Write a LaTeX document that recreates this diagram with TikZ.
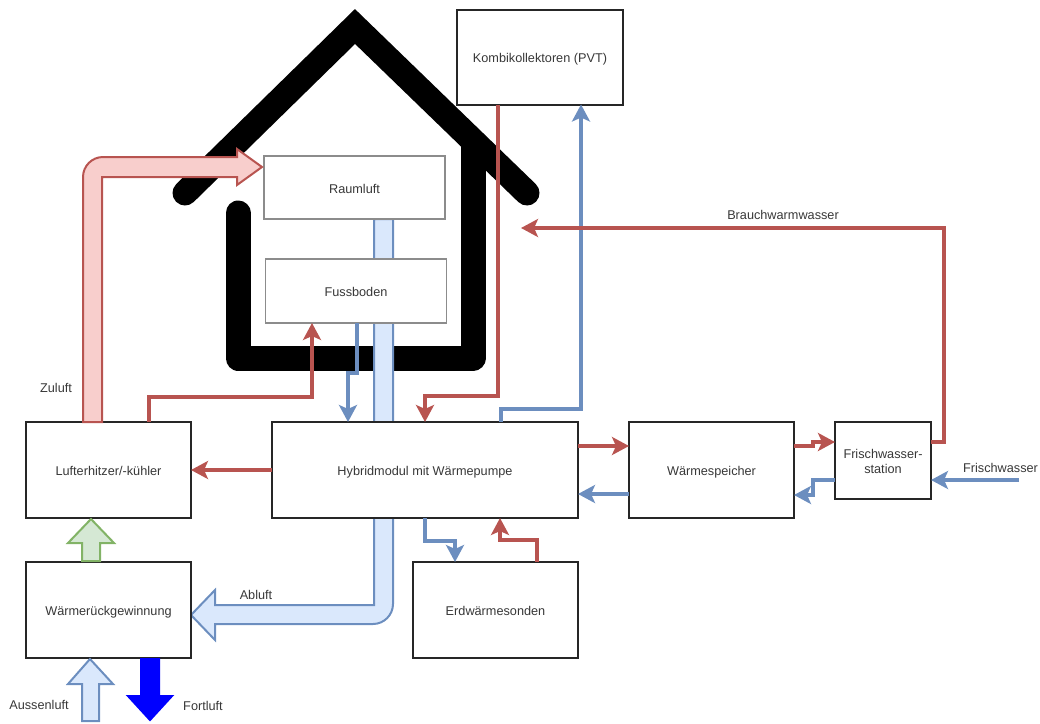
\documentclass[tikz,border=0pt]{standalone}
\usepackage{fontspec}
\setmainfont{Liberation Sans}
\usetikzlibrary{arrows.meta,backgrounds}

\begin{document}
\begin{tikzpicture}[x=1pt,y=-1pt,font=\fontsize{12.7}{15}\selectfont,text=black!78]

\tikzset{zeile/.style={text height=11pt,text depth=0pt}} %le texte est un peu plus bas
\tikzset{boite/.style={draw=black!85,line width=2pt,fill=white,outer sep=0pt,align=center,zeile}} %les boites
\tikzset{piece/.style={draw=black!45,line width=1.3pt,fill=white,outer sep=0pt,zeile}}
\tikzset{warm/.style={line width=4pt,draw=warmrot,-{Stealth[length=17pt,width=18pt,inset=4pt]}}}
\tikzset{kalt/.style={line width=4pt,draw=kaltblau,-{Stealth[length=17pt,width=18pt,inset=4pt]}}}
\tikzset{luft/.style={line width=2pt,draw=kaltblau,fill=kaltfond}}
\definecolor{warmrot}{HTML}{B85450}
\definecolor{warmfond}{HTML}{F8CECC}
\definecolor{kaltblau}{HTML}{6C8EBF}
\definecolor{kaltfond}{HTML}{DAE8FC}
\definecolor{grunrand}{HTML}{82B366}
\definecolor{grunfond}{HTML}{D5E8D4}

\useasboundingbox (0,0) rectangle (1040,723);

%--------------------boites---------------------
\node[boite,minimum width=165pt,minimum height=96pt] (lufter) at (108.5,470) {Lufterhitzer/-kühler};
\node[boite,minimum width=165pt,minimum height=96pt] (wrg) at (108.5,610) {Wärmerückgewinnung};
\node[boite,minimum width=306pt,minimum height=96pt] (hybrid) at (425,470) {Hybridmodul mit Wärmepumpe};
\node[boite,minimum width=165pt,minimum height=96pt] (speicher) at (711.5,470) {Wärmespeicher};
\node[boite,minimum width=96pt,minimum height=77pt,text height=30pt,text depth=4pt] (station) at (883,460.5) {Frischwasser-\\[0.5pt]station};
\node[boite,minimum width=165pt,minimum height=96pt] (sonden) at (495.5,610) {Erdwärmesonden};
\node[boite,minimum width=166pt,minimum height=95pt] (kollektor) at (540,57) {Kombikollektoren (PVT)};
\node[piece,minimum width=181pt,minimum height=63pt] (raum) at (354.5,187.5) {Raumluft};
\node[piece,minimum width=181pt,minimum height=64pt] (boden) at (356,291) {Fussboden};

%--------------------maison et abluft---------------------
\begin{scope}[on background layer]
	\draw[line width=25pt,line cap=round,line join=miter] (185,193) -- (355,26.5) -- (527,193);
	\draw[line width=25pt,line cap=round,line join=round] (238,213) -- (238,358) -- (473,358) -- (473,145);

	%Abluft
	\coordinate (t1) at (374,605);
	\coordinate (t2) at (393,624);
	\coordinate (t3) at (192,615);
	\draw[luft] (t1 |- raum.south) -- (t1) -- (215,605) -- (215,590) -- (wrg.east |- t3) -- (215,640) -- (215,624) -- (373,624) .. controls (384,624) and (393,615) .. (393,604) -- (t2 |- raum.south) -- cycle;
\end{scope}

%--------------------fleches d'air---------------------
%Zuluft
\coordinate (z1) at (83,157);
\coordinate (z2) at (102,177);
\coordinate (z3) at (262,167);
\draw[line width=2pt,draw=warmrot,fill=warmfond] (z1 |- lufter.north) -- (83,177) .. controls (83,166) and (92,157) .. (103,157) -- (237,157) -- (237,149) -- (z3) -- (237,185) -- (237,177) -- (z2) -- (z2 |- lufter.north) -- cycle;

%gewinnung
\draw[line width=2pt,draw=grunrand,fill=grunfond] (82,561) -- (82,543) -- (68,543) -- (91,519) -- (114,543) -- (100,543) -- (100,561) -- cycle;

%Aussenluft
\draw[luft] (82,721) -- (82,684) -- (68,684) -- (90,659) -- (113,684) -- (99,684) -- (99,721) -- cycle;

%Fortluft
\draw[line width=2pt,draw=blue,fill=blue] (141,659) -- (141,696) -- (128,696) -- (150,720) -- (172,696) -- (159,696) -- (159,659) -- cycle;

%--------------------conduites---------------------
\draw[warm] (hybrid.west) -- (lufter.east);

\coordinate (a1) at (149,397);
\coordinate (a2) at (312,397);
\draw[warm] (a1 |- lufter.north) -- (a1) -- (a2) -- (a2 |- boden.south);

\coordinate (b1) at (357,373);
\coordinate (b2) at (348,373);
\draw[kalt] (b1 |- boden.south) -- (b1) -- (b2) -- (b2 |- hybrid.north);

\coordinate (c1) at (498,396);
\coordinate (c2) at (425,396);
\draw[warm] (c1 |- kollektor.south) -- (c1) -- (c2) -- (c2 |- hybrid.north);

\coordinate (d1) at (501,409);
\coordinate (d2) at (581,409);
\draw[kalt] (d1 |- hybrid.north) -- (d1) -- (d2) -- (d2 |- kollektor.south);

\coordinate (e1) at (0,446);
\coordinate (e2) at (0,494);
\draw[warm] (hybrid.east |- e1) -- (speicher.west |- e1);
\draw[kalt] (speicher.west |- e2) -- (hybrid.east |- e2);

\coordinate (f1) at (425,541);
\coordinate (f2) at (455,541);
\draw[kalt] (f1 |- hybrid.south) -- (f1) -- (f2) -- (f2 |- sonden.north);

\coordinate (g1) at (537,540);
\coordinate (g2) at (500,540);
\draw[warm] (g1 |- sonden.north) -- (g1) -- (g2) -- (g2 |- hybrid.south);

\coordinate (h1) at (813,446);
\coordinate (h2) at (813,442);
\draw[warm] (speicher.east |- h1) -- (h1) -- (h2) -- (station.west |- h2);

\coordinate (i1) at (813,480);
\coordinate (i2) at (813,495);
\draw[kalt] (station.west |- i1) -- (i1) -- (i2) -- (speicher.east |- i2);

\coordinate (k1) at (944,442);
\coordinate (k2) at (944,228);
\coordinate (k3) at (521,228);
\draw[warm] (station.east |- k1) -- (k1) -- (k2) -- (k3);

\coordinate (l1) at (1019,480);
\draw[kalt] (l1) -- (station.east |- l1);

%--------------------textes---------------------
\node (zuluft) at (56,388) {Zuluft};
\node (abluft) at (256,595) {Abluft};
\node (aussenluft) at (39,704.5) {Aussenluft};
\node (fortluft) at (203,705.5) {Fortluft};
\node (brauch) at (783,215) {Brauchwarmwasser};
\node (frisch) at (1000.5,467.5) {Frischwasser};

\end{tikzpicture}
\end{document}
